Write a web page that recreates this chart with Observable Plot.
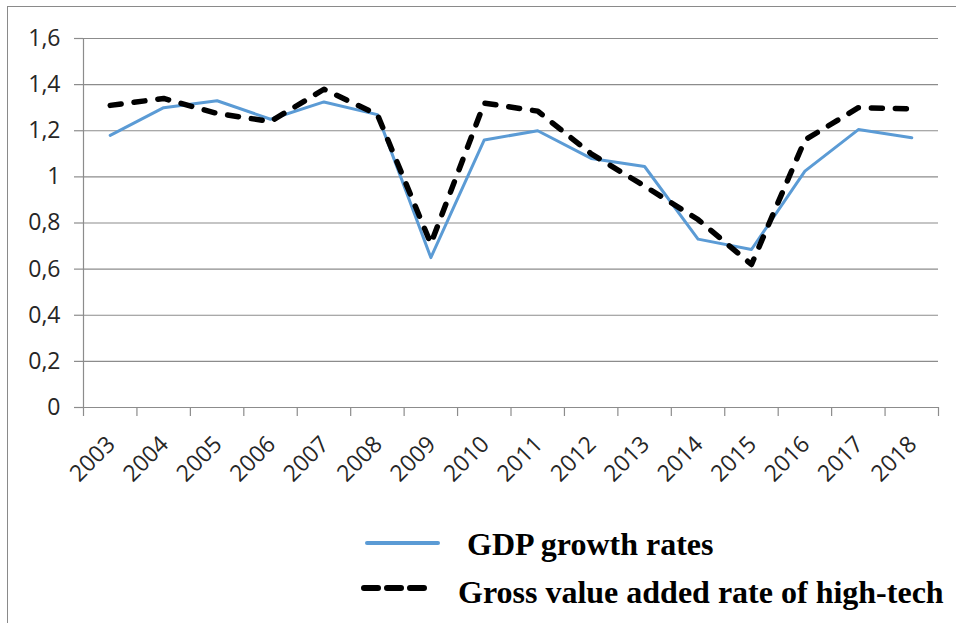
<!DOCTYPE html>
<html>
<head>
<meta charset="utf-8">
<script src="https://cdn.jsdelivr.net/npm/d3@7"></script>
<script src="https://cdn.jsdelivr.net/npm/@observablehq/plot@0.6"></script>
<style>
  html, body { margin: 0; padding: 0; background: #fff; }
  #wrap { position: relative; width: 956px; height: 623px; overflow: hidden; background: #fff; }
  #frame { position: absolute; left: 7px; top: 6px; width: 1000px; height: 700px;
           border-left: 1.5px solid #8a8a8a; border-top: 1.5px solid #8a8a8a; }
  #chart { position: absolute; left: 0; top: 0; }
  #legend { position: absolute; left: 0; top: 500px; }
</style>
</head>
<body>
<div id="wrap">
  <div id="frame"></div>
  <div id="chart"></div>
  <div id="legend"></div>
</div>
<script>
const years = [2003, 2004, 2005, 2006, 2007, 2008, 2009, 2010, 2011, 2012, 2013, 2014, 2015, 2016, 2017, 2018];
const gdpGrowth = [1.18, 1.30, 1.33, 1.25, 1.325, 1.27, 0.65, 1.16, 1.20, 1.08, 1.045, 0.73, 0.685, 1.025, 1.205, 1.17];
const highTechGVA = [1.31, 1.34, 1.275, 1.24, 1.38, 1.27, 0.71, 1.32, 1.285, 1.10, 0.96, 0.815, 0.62, 1.16, 1.30, 1.295];
const yTicks = [0, 0.2, 0.4, 0.6, 0.8, 1.0, 1.2, 1.4, 1.6];
const seriesNames = ["GDP growth rates", "Gross value added rate of high-tech"];

const gray = "#8c8c8c";
const labelFont = "'Open Sans', sans-serif";
const edges = [...years.map(y => y - 0.5), years[years.length - 1] + 0.5];

const gdpData = years.map((year, i) => ({year, value: gdpGrowth[i]}));
const gvaData = years.map((year, i) => ({year, value: highTechGVA[i]}));

const fmt = d => (Math.abs(d) < 1e-9 ? "0" : Math.abs(d - 1) < 1e-9 ? "1" : d.toFixed(1).replace(".", ","));

const chart = Plot.plot({
  width: 956,
  height: 500,
  marginLeft: 83,
  marginRight: 18,
  marginTop: 38,
  marginBottom: 93,
  style: {fontFamily: labelFont, background: "transparent", overflow: "visible"},
  x: {type: "linear", domain: [edges[0], edges[edges.length - 1]], axis: null},
  y: {domain: [0, 1.6], axis: null},
  marks: [
    Plot.gridY(yTicks, {stroke: gray, strokeOpacity: 1, strokeWidth: 1.2}),
    Plot.axisY(yTicks, {tickSize: 9, tickPadding: 14, stroke: gray, strokeOpacity: 1, strokeWidth: 1.2,
      tickFormat: fmt, fontSize: 23, fill: "#262626", label: null}),
    Plot.ruleX([edges[0]], {y1: 0, y2: 1.6, stroke: gray, strokeWidth: 1.2}),
    Plot.axisX(edges, {tickSize: 9, stroke: gray, strokeOpacity: 1, strokeWidth: 1.2, tickFormat: () => "", label: null}),
    Plot.text(years, {x: d => d, y: () => 0, text: d => String(d), rotate: -45, textAnchor: "end",
      lineAnchor: "middle", dy: 33, dx: 1, fontSize: 23, fill: "#262626", fontFamily: labelFont}),
    Plot.line(gdpData, {x: "year", y: "value", stroke: "#5B9BD5", strokeWidth: 3, strokeLinejoin: "round"}),
    Plot.line(gvaData, {x: "year", y: "value", stroke: "#000", strokeWidth: 5.5, strokeDasharray: "11,13",
      strokeLinecap: "round", strokeLinejoin: "round"})
  ]
});
document.getElementById("chart").appendChild(chart);

// Legend
const leg = d3.select("#legend").append("svg").attr("width", 956).attr("height", 123);
const legendItems = [
  {name: seriesNames[0], x1: 367, x2: 438, y: 43, tx: 467, ty: 55, stroke: "#5B9BD5", w: 4, dash: null},
  {name: seriesNames[1], x1: 364, x2: 426, y: 88, tx: 458, ty: 103, stroke: "#000", w: 6, dash: "14,9"}
];
legendItems.forEach(it => {
  const l = leg.append("line").attr("x1", it.x1).attr("x2", it.x2).attr("y1", it.y).attr("y2", it.y)
    .attr("stroke", it.stroke).attr("stroke-width", it.w).attr("stroke-linecap", "round");
  if (it.dash) l.attr("stroke-dasharray", it.dash);
  leg.append("text").attr("x", it.tx).attr("y", it.ty).text(it.name)
    .attr("font-family", "'Liberation Serif', 'Times New Roman', serif")
    .attr("font-weight", "bold").attr("font-size", 32).attr("fill", "#000");
});
</script>
</body>
</html>
